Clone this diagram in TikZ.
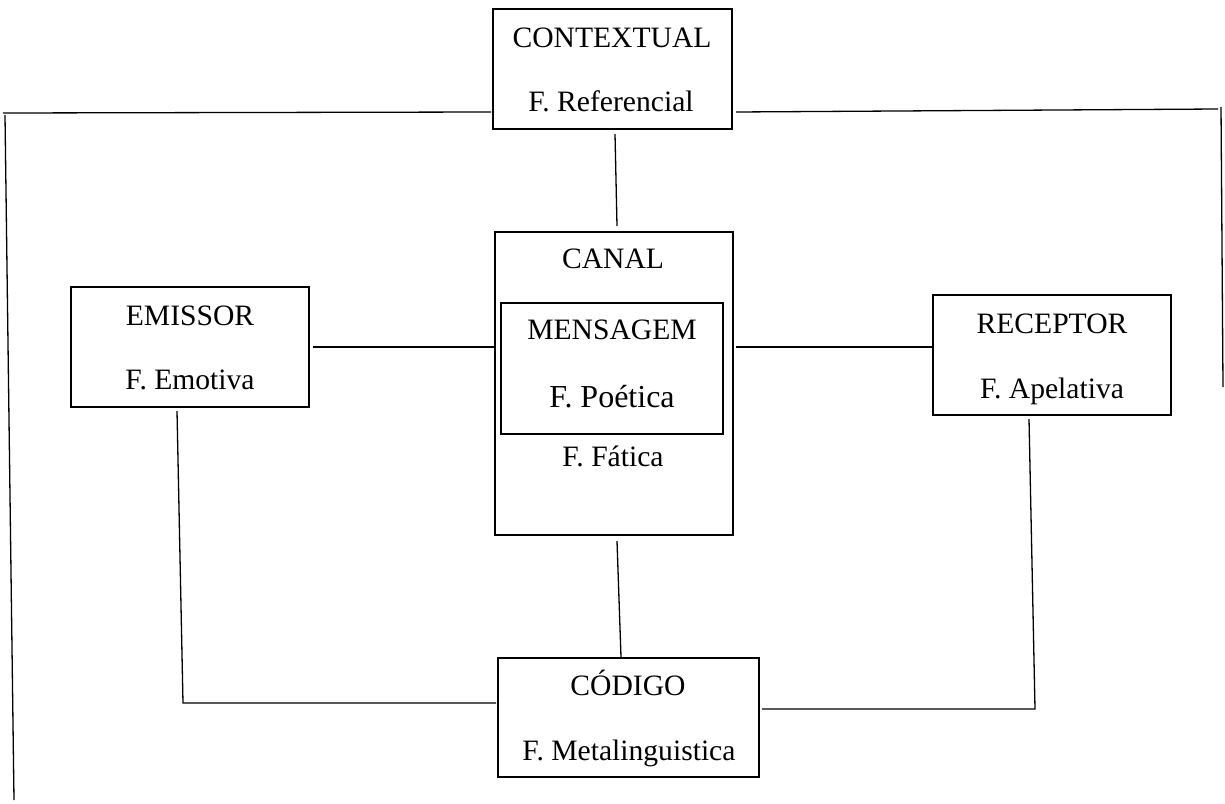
\documentclass[tikz,border=0pt]{standalone}
\usepackage{fontspec}
\setmainfont{Liberation Serif}
\usetikzlibrary{calc}
\begin{document}
\begin{tikzpicture}[x=0.5pt,y=-0.5pt,
  box/.style={draw,line width=1pt,inner sep=0pt,minimum width=#1},
  txt/.style={anchor=base,inner sep=0pt,font=\fontsize{14.8}{17}\selectfont},
  big/.style={anchor=base,inner sep=0pt,font=\fontsize{16}{19}\selectfont},
  conn/.style={line width=0.65pt}]
\useasboundingbox (0,0) rectangle (1225,803);
% boxes
\node[box=119.5pt,minimum height=60pt] (ctx) at (612.5,69) {};
\node[box=119pt,minimum height=151.5pt] (canal) at (614,383.5) {};
\node[box=111pt,minimum height=65.5pt,line width=0.9pt] (msg) at (612,368.5) {};
\node[box=119pt,minimum height=60pt] (emi) at (190,347) {};
\node[box=119pt,minimum height=60pt] (rec) at (1052,355) {};
\node[box=130.5pt,minimum height=59.5pt] (cod) at (628.5,717.5) {};
% texts
\node[txt] (t1) at (612,47) {CONTEXTUAL};
\node[txt] (t2) at (611,111) {F. Referencial};
\node[txt] (t3) at (613,268) {CANAL};
\node[txt] (t4) at (612,339) {MENSAGEM};
\node[big] (t5) at (612,407) {F. Poética};
\node[txt] (t6) at (613,466) {F. Fática};
\node[txt] (t7) at (190,325) {EMISSOR};
\node[txt] (t8) at (190,389) {F. Emotiva};
\node[txt] (t9) at (1052,333) {RECEPTOR};
\node[txt] (t10) at (1052,398) {F. Apelativa};
\node[txt] (t11) at (628,695) {CÓDIGO};
\node[txt] (t12) at (629,760) {F. Metalinguistica};
% free ends
\coordinate (lh) at (3,113);
\coordinate (lvt) at (5,115);
\coordinate (lvb) at (14,800);
\coordinate (rh) at (1218,109);
\coordinate (rvt) at (1221,107);
\coordinate (rvb) at (1223,387);
\coordinate (ec) at (183,703);
\coordinate (rc) at (1035,709);
% connectors
\draw[conn] ($(ctx.south)+(2.5,4)$) -- ($(canal.north)+(3,-5)$);
\draw[conn] ($(emi.east)+(3,0)$) -- (emi.east -| canal.west);
\draw[conn] ($(canal.east |- emi.east)+(2,0)$) -- (emi.east -| rec.west);
\draw[conn] ($(canal.south)+(3,5)$) -- ($(cod.north)+(-7.5,0)$);
\draw[conn] ($(emi.south)+(-13,3)$) -- (ec) -- ($(cod.west)+(-1,-14.5)$);
\draw[conn] ($(rec.south)+(-23,3)$) -- (rc) -- ($(cod.east)+(2,-8.5)$);
\draw[conn] ($(ctx.west)+(-1,43)$) -- (lh);
\draw[conn] (lvt) -- (lvb);
\draw[conn] ($(ctx.east)+(3,43)$) -- (rh);
\draw[conn] (rvt) -- (rvb);
\end{tikzpicture}
\end{document}
